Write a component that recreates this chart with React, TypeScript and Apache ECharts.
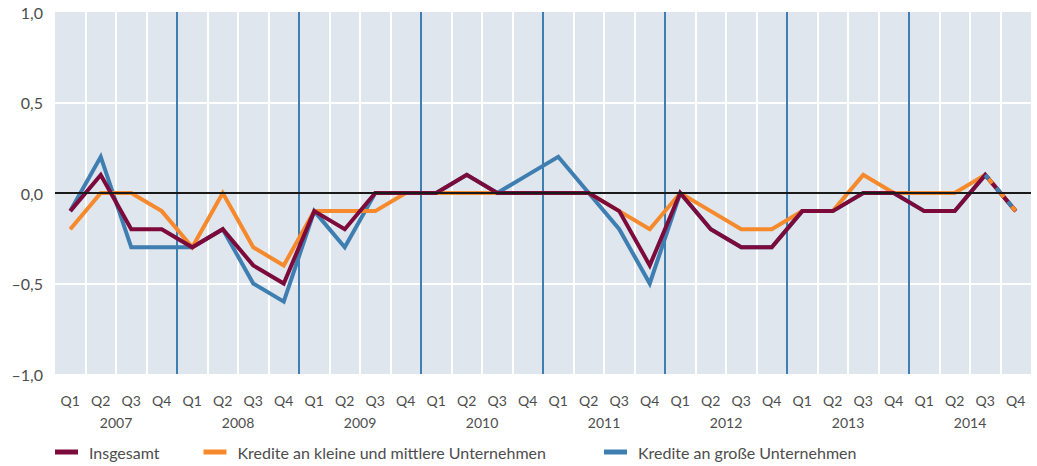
import React, { useEffect, useRef } from "react";
import * as echarts from "echarts";

const years = ["2007", "2008", "2009", "2010", "2011", "2012", "2013", "2014"];
const quarters = ["Q1", "Q2", "Q3", "Q4"];
const categories = years.flatMap((y) => quarters.map((q) => `${q} ${y}`));

const insgesamt = [
  -0.1, 0.1, -0.2, -0.2,
  -0.3, -0.2, -0.4, -0.5,
  -0.1, -0.2, 0, 0,
  0, 0.1, 0, 0,
  0, 0, -0.1, -0.4,
  0, -0.2, -0.3, -0.3,
  -0.1, -0.1, 0, 0,
  -0.1, -0.1, 0.1, -0.1,
];
const kmu = [
  -0.2, 0, 0, -0.1,
  -0.3, 0, -0.3, -0.4,
  -0.1, -0.1, -0.1, 0,
  0, 0, 0, 0,
  0, 0, -0.1, -0.2,
  0, -0.1, -0.2, -0.2,
  -0.1, -0.1, 0.1, 0,
  0, 0, 0.1, -0.1,
];
const gross = [
  -0.1, 0.2, -0.3, -0.3,
  -0.3, -0.2, -0.5, -0.6,
  -0.1, -0.3, 0, 0,
  0, 0.1, 0, 0.1,
  0.2, 0, -0.2, -0.5,
  0, -0.2, -0.3, -0.3,
  -0.1, -0.1, 0, 0,
  -0.1, -0.1, 0.1, -0.1,
];

const names = [
  "Insgesamt",
  "Kredite an kleine und mittlere Unternehmen",
  "Kredite an große Unternehmen",
];
const MAROON = "#7c0a3b";
const ORANGE = "#f5892c";
const BLUE = "#3f7eb1";
const FONT = "Lato, 'Open Sans', sans-serif";
const TEXT = "#4d4d4d";

const lastSeg = (arr: number[]) => arr.map((v, i) => (i >= arr.length - 2 ? v : null));

export default function App() {
  const ref = useRef<HTMLDivElement>(null);
  useEffect(() => {
    if (!ref.current) return;
    const chart = echarts.init(ref.current, undefined, { renderer: "svg" });
    const lineSeries = (name: string, data: any[], color: string, extra: any = {}) => ({
      name,
      type: "line",
      data,
      symbol: "none",
      lineStyle: { color, width: 4, join: "miter", ...extra },
      itemStyle: { color },
      xAxisIndex: 0,
      yAxisIndex: 0,
    });
    const legendBase = {
      top: 444,
      padding: 0,
      itemWidth: 23,
      itemHeight: 5,
      itemGap: 44,
      icon: "rect",
      textStyle: {
        fontFamily: FONT,
        fontSize: 16,
        color: TEXT,
        padding: [0, 0, 0, 6],
      },
    };
    chart.setOption({
      animation: false,
      textStyle: { fontFamily: FONT },
      grid: {
        left: 55,
        right: 6,
        top: 12,
        height: 362,
        show: true,
        backgroundColor: "#dfe6ee",
        borderWidth: 0,
      },
      legend: [
        { ...legendBase, data: [names[0], names[1]], left: 55 },
        { ...legendBase, data: [names[2]], left: 604 },
      ],
      xAxis: [
        {
          type: "category",
          data: categories,
          boundaryGap: true,
          axisLine: { show: false },
          axisTick: { show: false },
          axisLabel: {
            formatter: (v: string) => v.split(" ")[0],
            color: TEXT,
            fontSize: 14,
            fontFamily: FONT,
            margin: 19,
            interval: 0,
          },
          splitLine: {
            show: true,
            showMinLine: false,
            showMaxLine: false,
            interval: 0,
            lineStyle: { color: "#ffffff", width: 2 },
          },
        },
        {
          type: "category",
          data: years,
          position: "bottom",
          boundaryGap: true,
          axisLine: { show: false },
          axisTick: { show: false },
          axisLabel: {
            color: TEXT,
            fontSize: 14,
            fontFamily: FONT,
            margin: 41,
            interval: 0,
          },
          splitLine: {
            show: true,
            showMinLine: false,
            showMaxLine: false,
            interval: 0,
            lineStyle: { color: BLUE, width: 2 },
          },
        },
      ],
      yAxis: {
        type: "value",
        min: -1,
        max: 1,
        interval: 0.5,
        axisLine: { show: false },
        axisTick: { show: false },
        axisLabel: {
          formatter: (v: number) => v.toFixed(1).replace(".", ",").replace("-", "–"),
          color: TEXT,
          fontSize: 16,
          fontFamily: FONT,
          margin: 12,
        },
        splitLine: {
          show: true,
          showMinLine: false,
          showMaxLine: false,
          lineStyle: { color: "#ffffff", width: 2 },
        },
      },
      series: [
        {
          ...lineSeries(names[2], gross, BLUE),
          markLine: {
            silent: true,
            symbol: "none",
            label: { show: false },
            lineStyle: { color: "#1a1a1a", width: 2, type: "solid" },
            data: [{ yAxis: 0 }],
          },
        },
        lineSeries(names[1], kmu, ORANGE),
        lineSeries(names[0], insgesamt, MAROON),
        {
          ...lineSeries("", lastSeg(kmu), ORANGE, { type: [6, 12], dashOffset: -5 }),
        },
        {
          ...lineSeries("", lastSeg(gross), BLUE, { type: [6, 12], dashOffset: -17 }),
        },
      ],
    });
    return () => chart.dispose();
  }, []);
  return (
    <div
      ref={ref}
      style={{ position: "absolute", left: 0, top: 0, width: 1037, height: 466 }}
    />
  );
}
